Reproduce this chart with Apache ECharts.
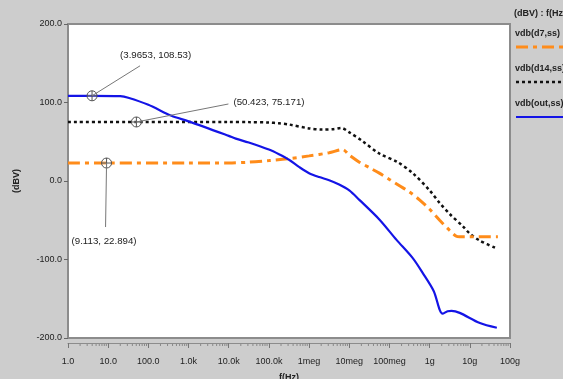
<!DOCTYPE html>
<html><head><meta charset="utf-8">
<script src="https://cdn.jsdelivr.net/npm/echarts@6/dist/echarts.min.js"></script>
<style>html,body{margin:0;padding:0;background:#cdcdcd;}#c{width:563px;height:379px;}</style>
</head><body><div id="c"></div>
<script>
// ---- data (frequency in Hz, value in dBV) ----
const xTickLabels = ['1.0','10.0','100.0','1.0k','10.0k','100.0k','1meg','10meg','100meg','1g','10g','100g'];
const yTicks = [-200, -100, 0, 100, 200];

const outFreq = [1, 3.9653, 20, 31.6, 100, 376, 1e3, 1e4, 1.5e4, 3.16e4, 1e5, 1.78e5, 3.16e5, 5.6e5, 1e6, 1.78e6, 3.16e6, 5.6e6, 1e7, 1.78e7, 5.6e7, 1.5e8, 3.76e8, 6.7e8, 1.26e9, 2.1e9, 2.8e9, 3.5e9, 5.6e9, 1.78e10, 4.7e10];
const outDb   = [108.5, 108.53, 108, 106, 97, 83, 76, 57.5, 54, 49, 40, 34, 27, 18, 10, 5, 1, -4.5, -12, -24, -49, -75, -98, -117, -140, -169, -166, -165.5, -168, -181, -187];

const d7Freq = [1, 9.113, 1e3, 1e4, 3.16e4, 1e5, 3.16e5, 1e6, 3.16e6, 6.8e6, 1e7, 1.78e7, 3.16e7, 5.6e7, 1e8, 1.78e8, 3.16e8, 5.6e8, 1e9, 1.78e9, 3.16e9, 4.5e9, 5.6e9, 1e10, 5e10];
const d7Db   = [22.9, 22.894, 22.9, 22.9, 24, 26, 28.5, 32, 36, 40, 33, 24, 17, 10, 2, -6, -14, -24, -36, -50, -63, -70, -71, -71, -71];

const d14Freq = [1, 50.423, 1e4, 3.16e4, 1e5, 1.78e5, 3.16e5, 1e6, 2.1e6, 4e6, 6.3e6, 1e7, 2.1e7, 5.6e7, 1.6e8, 3.8e8, 1e9, 1.78e9, 3.16e9, 6.8e9, 1e10, 1.78e10, 4.7e10];
const d14Db   = [75.17, 75.171, 75.17, 75, 74.5, 73.5, 72, 67, 65.5, 66, 67.5, 62, 51, 35, 24, 10, -12, -28, -42, -58, -67, -76, -86];

const markers = [
  {f: 3.9653, v: 108.53, text: '(3.9653, 108.53)', dx: 28, dy: -40, lx: 48, ly: -30},
  {f: 50.423, v: 75.171, text: '(50.423, 75.171)', dx: 97, dy: -20, lx: 92, ly: -18},
  {f: 9.113,  v: 22.894, text: '(9.113, 22.894)',  dx: -35, dy: 78, lx: -1, ly: 64}
];

function pairs(fs, vs){ return fs.map((f,i)=>[f, vs[i]]); }

const chart = echarts.init(document.getElementById('c'), null, {renderer:'canvas'});
const FONT = 'Liberation Sans, Arial, sans-serif';
const C_OUT = '#1414e6', C_D7 = '#ff8c1a', C_D14 = '#111111';

chart.setOption({
  backgroundColor: '#cdcdcd',
  animation: false,
  grid: {left: 68, right: 53, top: 24, bottom: 41, show: true, backgroundColor: '#ffffff', borderColor: '#8c8c8c', borderWidth: 2, containLabel: false, outerBoundsMode: 'none'},
  xAxis: {
    type: 'log', logBase: 10, min: 1, max: 1e11, interval: 1, splitNumber: 11, offset: 5,
    name: 'f(Hz)', nameLocation: 'middle', nameGap: 30,
    nameTextStyle: {fontFamily: FONT, fontSize: 9, color: '#222', fontWeight: 'bold'},
    axisLine: {show: true, onZero: false, lineStyle: {color: '#8c8c8c', width: 1}},
    axisTick: {show: true, length: 5, lineStyle: {color: '#777'}},
    minorTick: {show: false},
    splitLine: {show: false},
    axisLabel: {fontFamily: FONT, fontSize: 9, color: '#222', margin: 14, hideOverlap: false, showMinLabel: true, showMaxLabel: true,
      formatter: v => xTickLabels[Math.round(Math.log10(v))]}
  },
  yAxis: {
    type: 'value', min: -200, max: 200, interval: 100,
    name: '(dBV)', nameLocation: 'middle', nameGap: 47, nameRotate: 90,
    nameTextStyle: {fontFamily: FONT, fontSize: 9, color: '#222', fontWeight: 'bold'},
    axisLine: {show: true, lineStyle: {color: '#8c8c8c', width: 2}},
    axisTick: {show: true, length: 4, lineStyle: {color: '#666'}},
    splitLine: {show: false},
    axisLabel: {fontFamily: FONT, fontSize: 9, color: '#222', margin: 6, formatter: v => v.toFixed(1)}
  },
  series: [
    {name: 'vdb(d7,ss)', type: 'line', data: pairs(d7Freq, d7Db), showSymbol: false, smooth: 0.3,
     lineStyle: {color: C_D7, width: 3, type: [12, 5, 4, 5]}, z: 3},
    {name: 'vdb(d14,ss)', type: 'line', data: pairs(d14Freq, d14Db), showSymbol: false, smooth: 0.3,
     lineStyle: {color: C_D14, width: 2.5, type: [3, 3]}, z: 2},
    {name: 'vdb(out,ss)', type: 'line', data: pairs(outFreq, outDb), showSymbol: false, smooth: 0.3,
     lineStyle: {color: C_OUT, width: 2.2}, z: 4}
  ]
});

// legend + annotations + log minor ticks
const g = [];
const LX = 514;
g.push({type:'text', left: LX, top: 9, style:{text:'(dBV) : f(Hz)', font:'bold 9px '+FONT, fill:'#222'}});
const leg = [
  {t:'vdb(d7,ss)', c:C_D7, w:3, d:[12,5,4,5], y:29, ly:47},
  {t:'vdb(d14,ss)', c:C_D14, w:2.5, d:[3,3], y:64, ly:82},
  {t:'vdb(out,ss)', c:C_OUT, w:2, d:null, y:99, ly:117}
];
leg.forEach(l=>{
  g.push({type:'text', left: LX+1, top: l.y, style:{text:l.t, font:'bold 9px '+FONT, fill:'#222'}});
  g.push({type:'line', shape:{x1:LX+2, y1:l.ly, x2:563, y2:l.ly}, style:{stroke:l.c, lineWidth:l.w, lineDash:l.d}});
});
// minor ticks at 2..9 x 10^n on the offset x axis line
const axisY = chart.convertToPixel({yAxisIndex:0}, -200) + 5;
for (let n = 0; n < 11; n++) {
  for (let k = 2; k <= 9; k++) {
    const px = chart.convertToPixel({xAxisIndex:0}, k * Math.pow(10, n));
    g.push({type:'line', silent:true, shape:{x1:px, y1:axisY, x2:px, y2:axisY+3}, style:{stroke:'#888', lineWidth:1}});
  }
}
markers.forEach(m=>{
  const p = chart.convertToPixel({xAxisIndex:0, yAxisIndex:0}, [m.f, m.v]);
  const r = 5;
  g.push({type:'circle', shape:{cx:p[0], cy:p[1], r:r}, style:{fill:'rgba(255,255,255,0.3)', stroke:'#555', lineWidth:1}, z:10});
  g.push({type:'line', shape:{x1:p[0]-r, y1:p[1], x2:p[0]+r, y2:p[1]}, style:{stroke:'#555', lineWidth:1}, z:10});
  g.push({type:'line', shape:{x1:p[0], y1:p[1]-r, x2:p[0], y2:p[1]+r}, style:{stroke:'#555', lineWidth:1}, z:10});
  g.push({type:'line', shape:{x1:p[0], y1:p[1], x2:p[0]+m.lx, y2:p[1]+m.ly}, style:{stroke:'#777', lineWidth:1}, z:10});
  g.push({type:'text', x:p[0]+m.dx, y:p[1]+m.dy, style:{text:m.text, font:'9.7px '+FONT, fill:'#222', verticalAlign:'middle'}, z:10});
});
chart.setOption({graphic: g});
</script></body></html>
